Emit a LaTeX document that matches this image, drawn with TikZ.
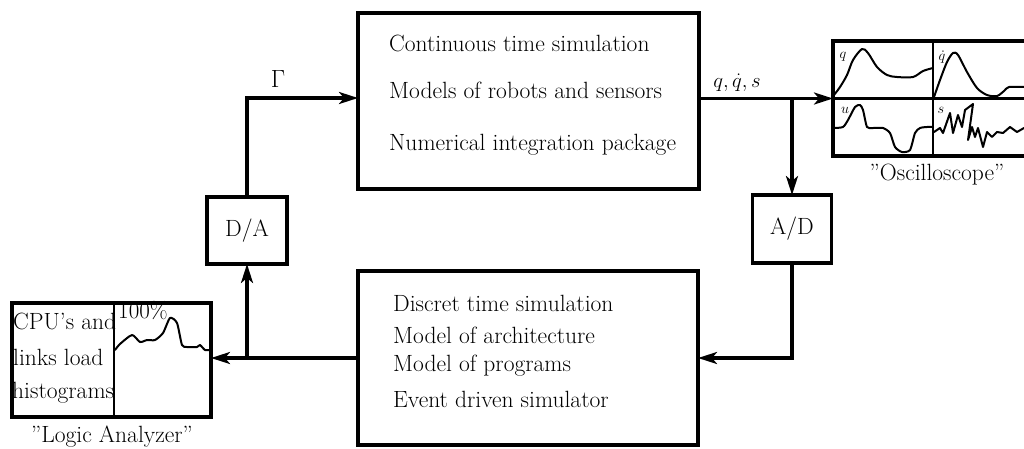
\documentclass[tikz,border=0pt]{standalone}
\usetikzlibrary{arrows.meta}
\begin{document}
\begin{tikzpicture}[x=1pt,y=-1pt]
\tikzset{
  blk/.style={draw, line width=3.2pt, inner sep=0pt, outer sep=0pt},
  txt/.style={anchor=base west, inner sep=0pt, font=\fontsize{23.5}{27}\selectfont},
  lbl/.style={inner sep=0pt, font=\fontsize{23.5}{27}\selectfont},
  arr/.style={line width=3.2pt, -{Stealth[length=19pt,width=12pt,inset=5pt]}},
  gridln/.style={line width=2.2pt},
  trace/.style={line width=2pt, line join=round, line cap=round},
  sig/.style={inner sep=0pt, font=\fontsize{14}{16}\selectfont}
}
\useasboundingbox (0,0) rectangle (1024,448);
\fill[white] (0,0) rectangle (1024,448);
\clip (0,0) rectangle (1024,448);

% boxes
\node[blk, minimum width=341pt, minimum height=176pt] (top) at (528.5,101) {};
\node[blk, minimum width=340pt, minimum height=174pt] (bot) at (528,358) {};
\node[blk, lbl, minimum width=80pt, minimum height=67pt] (DA) at (247,230.5) {D/A};
\node[blk, lbl, minimum width=79pt, minimum height=68pt] (AD) at (792,229) {A/D};
\node[blk, minimum width=199pt, minimum height=114pt] (LA) at (111.5,360) {};
\node[blk, minimum width=200pt, minimum height=115pt] (osc) at (933,98.5) {};

% texts
\node[txt] (t1) at (389,51) {Continuous time simulation};
\node[txt] (t2) at (389,98) {Models of robots and sensors};
\node[txt] (t3) at (389,150) {Numerical integration package};
\node[txt] (b1) at (393,311) {Discret time simulation};
\node[txt] (b2) at (393,343) {Model of architecture};
\node[txt] (b3) at (393,371) {Model of programs};
\node[txt] (b4) at (393,407) {Event driven simulator};
\node[txt] (l1) at (13,329) {CPU's and};
\node[txt] (l2) at (13,365) {links load};
\node[txt] (l3) at (12,398) {histograms};
\node[txt, font=\fontsize{23}{26}\selectfont] (pct) at (118,318) {100\%};
\node[lbl, anchor=base] (oscl) at (937,180) {"Oscilloscope"};
\node[lbl, anchor=base] (lal) at (112,442) {"Logic Analyzer"};
\node[lbl, anchor=base] (gam) at (278,87) {$\Gamma$};
\node[lbl, anchor=base, font=\fontsize{20}{24}\selectfont] (qqs) at (737,87) {$q,\dot q,s$};

% oscilloscope grid and traces
\draw[gridln] (osc.north) -- (osc.south);
\draw[gridln] (osc.west) -- (osc.east);
\node[sig] (sq) at (843,57) {$q$};
\node[sig] (sqd) at (942,57) {$\dot q$};
\node[sig] (su) at (845,110) {$u$};
\node[sig] (ss) at (941,110) {$s$};
\draw[trace] plot[smooth, tension=0.5] coordinates {(834,95) (840,87) (847,75) (853,60) (862,49) (868,53) (877,67) (887,75) (897,77) (913,77) (923,71) (933,68)};
\draw[trace] plot[smooth, tension=0.5] coordinates {(934,97) (940,80) (947,62) (953,53) (958,55) (967,72) (977,88) (987,95) (997,96) (1004,91) (1009,87) (1024,87)};
\draw[trace] plot[smooth, tension=0.4] coordinates {(834,128) (843,127) (848,120) (855,107) (860,105) (863,110) (867,127) (873,128) (883,128) (890,133) (895,147) (902,152) (910,150) (915,133) (920,128) (927,127) (933,127)};
\draw[trace] (934,132) -- (940,128) -- (943,133) -- (950,113) -- (953,133) -- (958,115) -- (962,127) -- (965,110) -- (973,104) -- (968,140) -- (972,127) -- (975,137) -- (978,128) -- (983,147) -- (987,132) -- (992,137) -- (997,132) -- (1003,133) -- (1010,127) -- (1017,132) -- (1024,128);

% logic analyzer divider and trace
\draw[gridln] (114,303) -- (114,417);
\draw[trace] plot[smooth, tension=0.4] coordinates {(115,350) (120,344) (132,335) (140,342) (147,340) (155,340) (163,333) (170,318) (177,323) (182,345) (187,347) (197,347) (200,345) (205,350) (210,350)};

% connectors
\draw[arr] (DA.north) |- ([yshift=3pt]top.west);
\draw[arr] (top.east |- osc.west) -- (osc.west);
\draw[arr] (AD.north |- osc.west) -- (AD.north);
\draw[arr] (AD.south) |- (bot.east);
\draw[arr] (bot.west) -- (LA.east |- bot.west);
\draw[arr] (DA.south |- bot.west) -- (DA.south);
\end{tikzpicture}
\end{document}
